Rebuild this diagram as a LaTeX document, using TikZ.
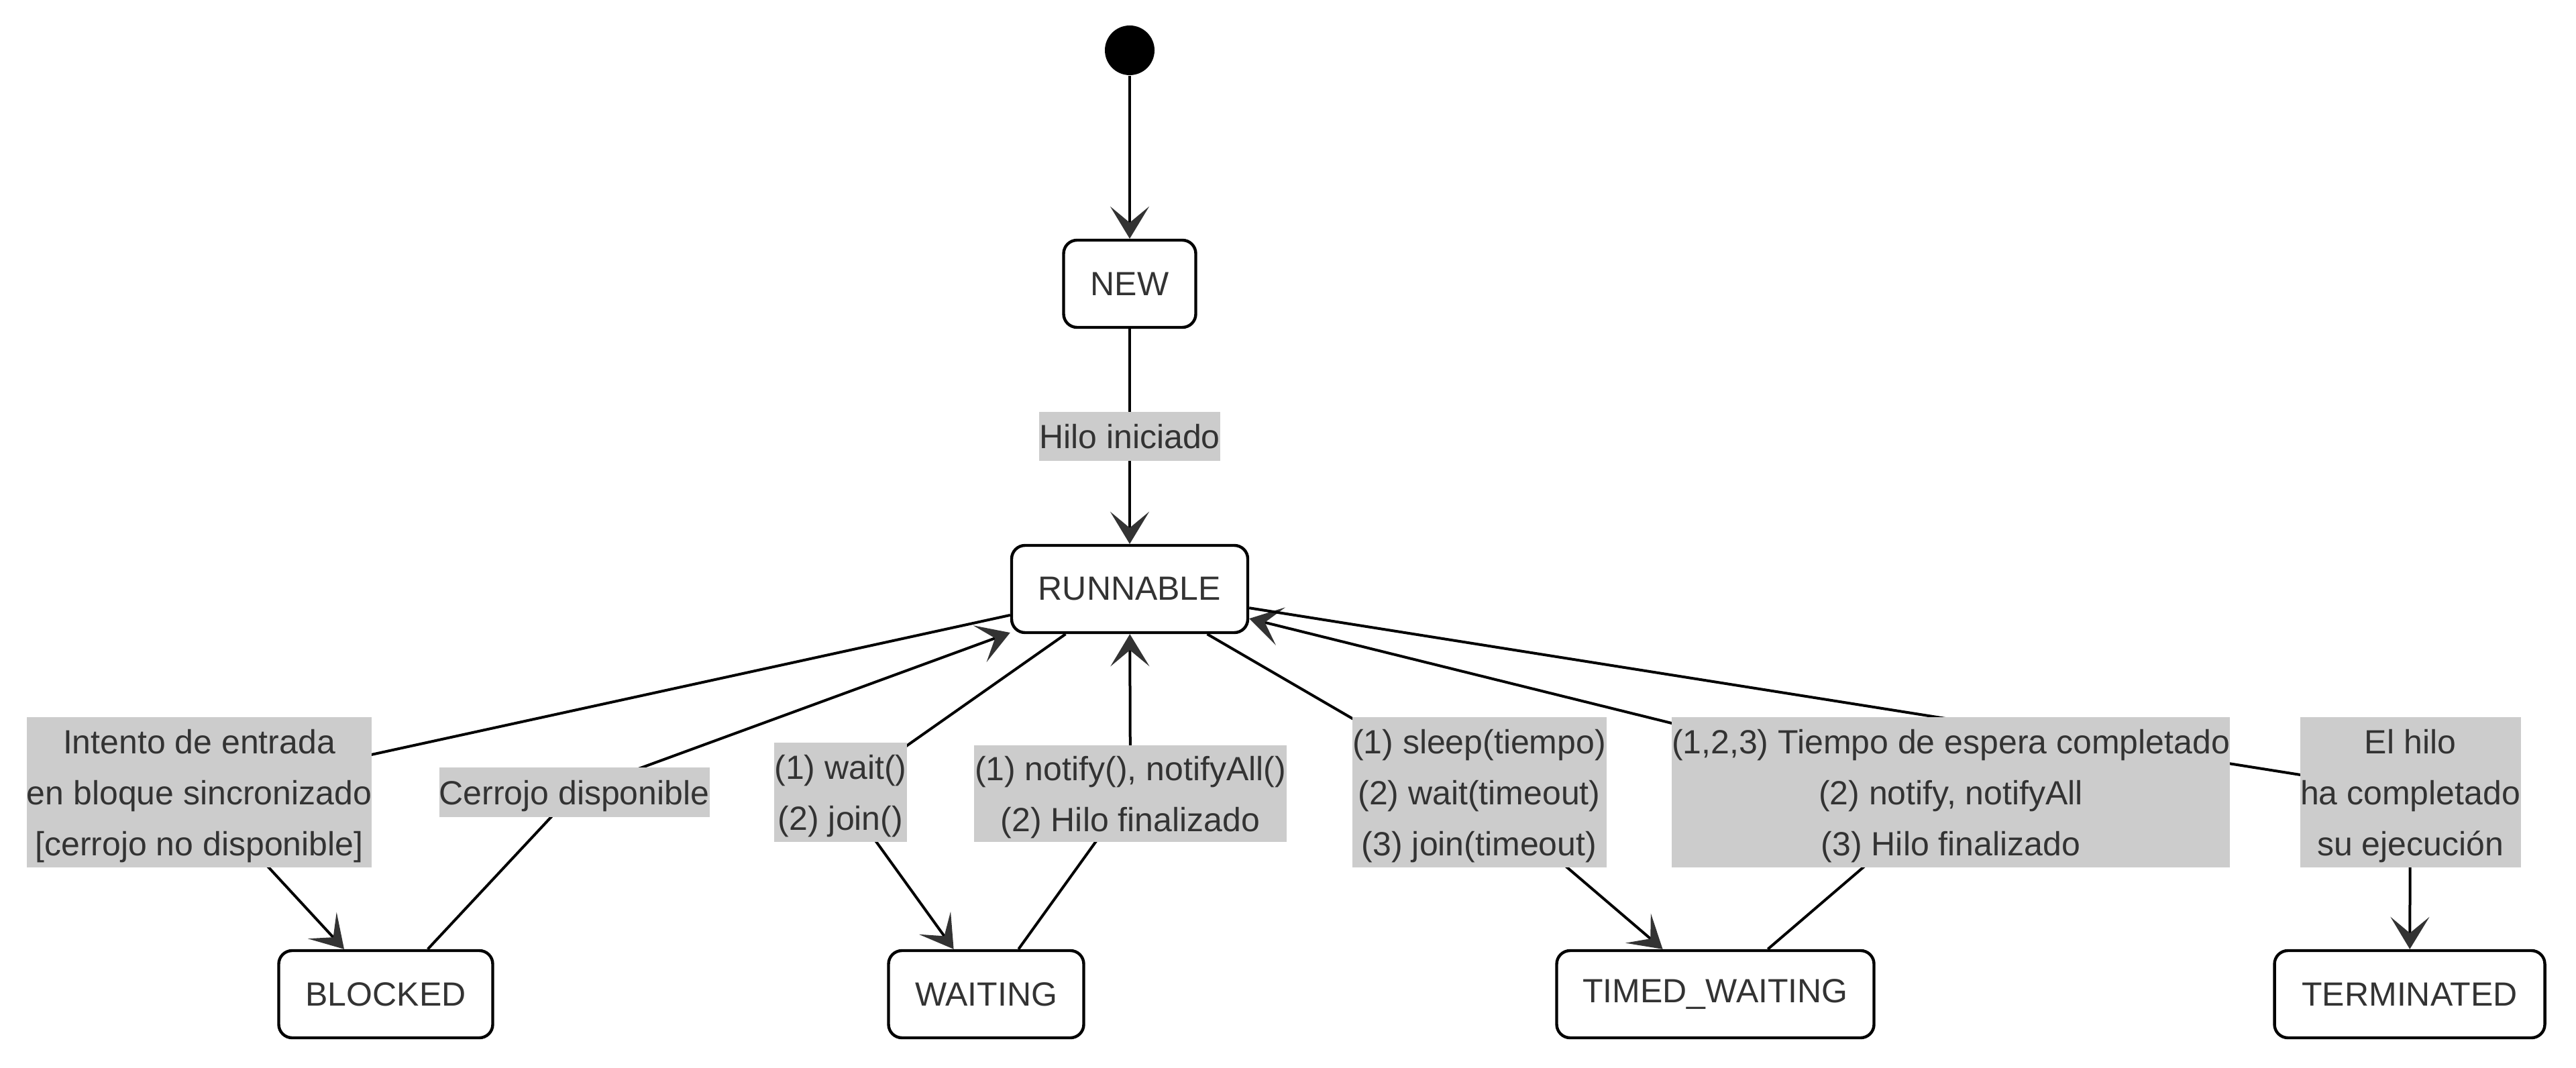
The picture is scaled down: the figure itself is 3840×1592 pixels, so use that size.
\documentclass[tikz,border=0pt]{standalone}
\usepackage{fontspec}
\setmainfont{Liberation Sans}
\usetikzlibrary{arrows.meta}
\definecolor{txt}{HTML}{333333}
\definecolor{lblbg}{HTML}{CCCCCC}
\definecolor{tipc}{HTML}{333333}
\newcommand\lnstrut{\rule[-3pt]{0pt}{15pt}}
\pgfdeclarelayer{back}
\pgfdeclarelayer{edges}
\pgfsetlayers{back,edges,main}
\begin{document}
\begin{tikzpicture}[x=0.25pt,y=-0.25pt,
  every node/.style={font=\fontsize{12.5pt}{19pt}\selectfont, text=txt},
  state/.style={draw=black, line width=1.1pt, fill=white, rounded corners=5pt,
    minimum height=32.5pt, inner sep=0pt},
  lbl/.style={fill=lblbg, inner sep=0pt, align=center},
  conn/.style={draw=black, line width=1pt, rounded corners=6pt,
    -{Stealth[length=12pt, width=14.5pt, inset=6pt, color=tipc]}}]
\useasboundingbox (0,0) rectangle (3840,1592);
\begin{pgfonlayer}{back}
  \fill[white] (0,0) rectangle (3840,1592);
\end{pgfonlayer}
% states
\node[circle, fill=black, minimum size=18.5pt, inner sep=0pt] (start) at (1684,75) {};
\node[state, minimum width=49.25pt] (new) at (1684,423) {NEW};
\node[state, minimum width=88pt] (run) at (1684,878) {RUNNABLE};
\node[state, minimum width=79.75pt] (blocked) at (575,1482) {BLOCKED};
\node[state, minimum width=72.75pt] (waiting) at (1470,1482) {WAITING};
\node[state, minimum width=118.25pt] (tw) at (2557,1482) {TIMED\_WAITING};
\node[state, minimum width=100.75pt] (term) at (3592,1482) {TERMINATED};
% labels
\node[lbl, minimum width=67.25pt, minimum height=18.25pt] (lIni) at (1684,651)
  {\lnstrut Hilo iniciado};
\node[lbl, minimum width=128.5pt, minimum height=56pt] (lA) at (297,1181)
  {\lnstrut Intento de entrada\\\lnstrut en bloque sincronizado\\\lnstrut [cerrojo no disponible]};
\node[lbl, minimum width=100.75pt, minimum height=18.5pt] (lB) at (856,1181)
  {\lnstrut Cerrojo disponible};
\node[lbl, minimum width=48.5pt, minimum height=37pt] (lC) at (1253,1181)
  {\lnstrut (1) wait()\\\lnstrut (2) join()};
\node[lbl, minimum width=116.5pt, minimum height=36pt] (lD) at (1685,1183)
  {\lnstrut (1) notify(), notifyAll()\\\lnstrut (2) Hilo finalizado};
\node[lbl, minimum width=94.75pt, minimum height=56pt] (lE) at (2205,1181)
  {\lnstrut (1) sleep(tiempo)\\\lnstrut (2) wait(timeout)\\\lnstrut (3) join(timeout)};
\node[lbl, minimum width=207pt, minimum height=56pt] (lF) at (2908,1181)
  {\lnstrut (1,2,3) Tiempo de espera completado\\\lnstrut (2) notify, notifyAll\\\lnstrut (3) Hilo finalizado};
\node[lbl, minimum width=82.25pt, minimum height=56pt] (lG) at (3593,1181)
  {\lnstrut El hilo\\\lnstrut ha completado\\\lnstrut su ejecución};
% connectors
\begin{pgfonlayer}{edges}
  \draw[conn] (start) -- (new);
  \draw[conn] (new) -- (run);
  \draw[conn] (run) -- (lA.center) -- (blocked);
  \draw[conn] (blocked) -- (lB.center) -- (run);
  \draw[conn] (run) -- (lC.center) -- (waiting);
  \draw[conn] (waiting) -- (lD.center) -- (run);
  \draw[conn] (run) -- (lE.center) -- (tw);
  \draw[conn] (tw) -- (lF.center) -- (run);
  \draw[conn] (run) -- (lG.center) -- (term);
\end{pgfonlayer}
\end{tikzpicture}
\end{document}
